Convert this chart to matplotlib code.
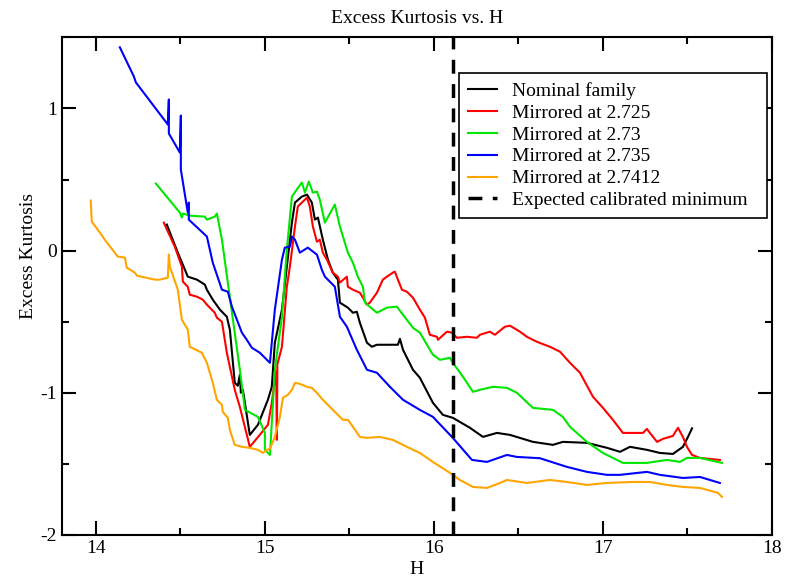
import matplotlib
matplotlib.use("Agg")
import matplotlib.pyplot as plt
from matplotlib.ticker import MultipleLocator

plt.rcParams['font.family'] = ['Liberation Serif', 'DejaVu Serif']
plt.rcParams['axes.unicode_minus'] = False

# Nominal family
h_nominal = [14.420, 14.485, 14.544, 14.598, 14.645, 14.657, 14.692, 14.734, 14.775, 14.793,
             14.822, 14.840, 14.852, 14.858, 14.870, 14.911, 14.959, 15.018, 15.041, 15.059,
             15.101, 15.130, 15.160, 15.178, 15.219, 15.249, 15.278, 15.296, 15.314, 15.343,
             15.373, 15.402, 15.432, 15.444, 15.491, 15.521, 15.544, 15.562, 15.604, 15.633,
             15.663, 15.722, 15.787, 15.799, 15.817, 15.876, 15.917, 15.994, 16.053, 16.112,
             16.213, 16.290, 16.373, 16.450, 16.586, 16.704, 16.763, 16.905, 17.024, 17.101,
             17.160, 17.260, 17.337, 17.414, 17.473, 17.503, 17.527]
k_nominal = [0.183, -0.014, -0.183, -0.204, -0.239, -0.275, -0.345, -0.415, -0.465, -0.556,
             -0.930, -0.950, -0.873, -1.000, -0.979, -1.296, -1.225, -1.049, -0.958, -0.648,
             -0.415, -0.113, 0.197, 0.338, 0.380, 0.394, 0.338, 0.218, 0.232, 0.077,
             -0.063, -0.155, -0.204, -0.366, -0.401, -0.437, -0.430, -0.507, -0.648, -0.676,
             -0.662, -0.662, -0.662, -0.620, -0.697, -0.838, -0.894, -1.070, -1.155, -1.176,
             -1.246, -1.310, -1.282, -1.296, -1.345, -1.366, -1.345, -1.352, -1.387, -1.415,
             -1.380, -1.401, -1.423, -1.430, -1.380, -1.310, -1.250]

# Mirrored at 2.725
h_2725 = [14.402, 14.467, 14.509, 14.515, 14.544, 14.556, 14.598, 14.633, 14.657, 14.704,
          14.716, 14.746, 14.775, 14.822, 14.852, 14.911, 14.970, 15.018, 15.041, 15.059,
          15.067, 15.071, 15.074, 15.101, 15.130, 15.148, 15.178, 15.195, 15.225, 15.249,
          15.266, 15.284, 15.308, 15.325, 15.343, 15.367, 15.402, 15.432, 15.444, 15.485,
          15.491, 15.521, 15.562, 15.580, 15.604, 15.621, 15.663, 15.698, 15.722, 15.757,
          15.769, 15.787, 15.811, 15.840, 15.876, 15.917, 15.947, 15.976, 16.018, 16.024,
          16.077, 16.107, 16.136, 16.195, 16.254, 16.272, 16.331, 16.361, 16.420, 16.450,
          16.509, 16.550, 16.609, 16.686, 16.746, 16.805, 16.864, 16.941, 17.000, 17.059,
          17.118, 17.237, 17.260, 17.278, 17.320, 17.355, 17.414, 17.444, 17.473, 17.497,
          17.527, 17.574, 17.692]
k_2725 = [0.197, 0.028, -0.113, -0.218, -0.254, -0.310, -0.324, -0.345, -0.380, -0.437,
          -0.472, -0.500, -0.718, -0.979, -1.099, -1.380, -1.296, -1.225, -1.070, -0.908,
          -0.850, -1.331, -0.800, -0.676, -0.254, -0.113, 0.169, 0.310, 0.345, 0.373,
          0.310, 0.169, 0.063, 0.077, -0.014, -0.063, -0.155, -0.183, -0.225, -0.183,
          -0.254, -0.275, -0.296, -0.331, -0.380, -0.366, -0.296, -0.204, -0.183, -0.155,
          -0.148, -0.204, -0.275, -0.289, -0.331, -0.415, -0.472, -0.592, -0.606, -0.627,
          -0.570, -0.577, -0.613, -0.606, -0.613, -0.592, -0.570, -0.592, -0.535, -0.528,
          -0.570, -0.606, -0.641, -0.676, -0.711, -0.789, -0.859, -1.028, -1.106, -1.190,
          -1.282, -1.282, -1.254, -1.282, -1.345, -1.324, -1.303, -1.246, -1.310, -1.380,
          -1.437, -1.458, -1.472]

# Mirrored at 2.73
h_273 = [14.355, 14.497, 14.509, 14.515, 14.556, 14.645, 14.657, 14.704, 14.716, 14.746,
         14.781, 14.852, 14.882, 14.959, 15.000, 15.000, 15.030, 15.059, 15.101, 15.130,
         15.160, 15.189, 15.219, 15.237, 15.260, 15.284, 15.308, 15.325, 15.355, 15.414,
         15.444, 15.491, 15.521, 15.550, 15.580, 15.592, 15.663, 15.722, 15.781, 15.817,
         15.876, 15.917, 15.994, 16.036, 16.095, 16.112, 16.172, 16.231, 16.272, 16.349,
         16.432, 16.491, 16.586, 16.704, 16.763, 16.805, 16.905, 17.000, 17.118, 17.260,
         17.379, 17.456, 17.497, 17.574, 17.704]
k_273 = [0.472, 0.268, 0.232, 0.261, 0.246, 0.239, 0.218, 0.239, 0.261, 0.077,
         -0.225, -0.838, -1.120, -1.169, -1.282, -1.401, -1.437, -0.838, -0.465, 0.007,
         0.380, 0.430, 0.479, 0.408, 0.486, 0.408, 0.415, 0.359, 0.197, 0.324,
         0.169, -0.014, -0.085, -0.183, -0.254, -0.366, -0.437, -0.401, -0.394, -0.451,
         -0.542, -0.577, -0.732, -0.768, -0.754, -0.789, -0.887, -0.993, -0.979, -0.958,
         -0.965, -1.000, -1.106, -1.120, -1.169, -1.239, -1.345, -1.423, -1.493, -1.493,
         -1.472, -1.486, -1.458, -1.458, -1.493]

# Mirrored at 2.735
h_2735 = [14.142, 14.225, 14.237, 14.426, 14.432, 14.432, 14.497, 14.503, 14.503, 14.544,
          14.550, 14.550, 14.657, 14.692, 14.746, 14.781, 14.805, 14.864, 14.893, 14.923,
          14.970, 15.030, 15.059, 15.101, 15.118, 15.148, 15.160, 15.178, 15.207, 15.254,
          15.308, 15.337, 15.355, 15.414, 15.444, 15.485, 15.544, 15.604, 15.663, 15.740,
          15.817, 15.917, 15.994, 16.112, 16.225, 16.314, 16.432, 16.491, 16.627, 16.787,
          16.905, 17.024, 17.101, 17.260, 17.337, 17.473, 17.574, 17.692]
k_2735 = [1.430, 1.225, 1.183, 0.887, 1.063, 0.824, 0.690, 0.950, 0.570, 0.268,
          0.338, 0.218, 0.099, -0.085, -0.275, -0.289, -0.394, -0.577, -0.627, -0.683,
          -0.718, -0.789, -0.415, -0.063, 0.021, 0.028, 0.099, 0.077, -0.014, 0.021,
          -0.028, -0.134, -0.183, -0.254, -0.465, -0.535, -0.697, -0.838, -0.859, -0.958,
          -1.049, -1.120, -1.169, -1.317, -1.472, -1.486, -1.437, -1.451, -1.460, -1.521,
          -1.556, -1.577, -1.577, -1.556, -1.577, -1.599, -1.592, -1.634]

# Mirrored at 2.7412
h_27412 = [13.970, 13.976, 14.024, 14.053, 14.130, 14.172, 14.183, 14.231, 14.243, 14.349,
           14.379, 14.426, 14.432, 14.438, 14.485, 14.509, 14.544, 14.556, 14.627, 14.657,
           14.692, 14.716, 14.746, 14.751, 14.781, 14.793, 14.822, 14.864, 14.911, 14.959,
           14.988, 15.012, 15.030, 15.059, 15.089, 15.107, 15.136, 15.160, 15.178, 15.207,
           15.249, 15.278, 15.308, 15.343, 15.402, 15.462, 15.491, 15.521, 15.562, 15.604,
           15.680, 15.757, 15.840, 15.917, 15.994, 16.095, 16.154, 16.231, 16.314, 16.391,
           16.432, 16.550, 16.686, 16.787, 16.905, 17.024, 17.178, 17.278, 17.379, 17.473,
           17.574, 17.680, 17.704]
k_27412 = [0.352, 0.204, 0.127, 0.077, -0.042, -0.049, -0.120, -0.155, -0.176, -0.204,
           -0.204, -0.190, -0.028, -0.113, -0.275, -0.486, -0.556, -0.676, -0.718, -0.789,
           -0.930, -1.049, -1.085, -1.134, -1.176, -1.261, -1.366, -1.380, -1.387, -1.401,
           -1.423, -1.401, -1.394, -1.310, -1.169, -1.035, -1.014, -0.979, -0.930, -0.937,
           -0.958, -0.965, -1.000, -1.049, -1.120, -1.190, -1.190, -1.239, -1.310, -1.317,
           -1.310, -1.331, -1.380, -1.423, -1.486, -1.563, -1.613, -1.662, -1.669, -1.634,
           -1.613, -1.634, -1.613, -1.627, -1.648, -1.634, -1.627, -1.627, -1.648, -1.662,
           -1.669, -1.704, -1.732]

h_expected_min = 16.11

fig = plt.figure(figsize=(7.9, 5.8), dpi=100)
ax = fig.add_axes([0.0785, 0.0776, 0.8987, 0.858])

lw = 1.5
ax.plot(h_nominal, k_nominal, color='black', lw=lw, label='Nominal family')
ax.plot(h_2725, k_2725, color='#ff0000', lw=lw, label='Mirrored at 2.725')
ax.plot(h_273, k_273, color='#00e600', lw=lw, label='Mirrored at 2.73')
ax.plot(h_2735, k_2735, color='#0000ff', lw=lw, label='Mirrored at 2.735')
ax.plot(h_27412, k_27412, color='#ffa500', lw=lw, label='Mirrored at 2.7412')
ax.axvline(h_expected_min, color='black', lw=2.5, linestyle=(0, (4, 3)),
           label='Expected calibrated minimum')

ax.set_xlim(13.8, 18)
ax.set_ylim(-2, 1.5)
ax.xaxis.set_major_locator(MultipleLocator(1))
ax.xaxis.set_minor_locator(MultipleLocator(0.5))
ax.yaxis.set_major_locator(MultipleLocator(1))
ax.yaxis.set_minor_locator(MultipleLocator(0.5))
ax.tick_params(which='both', direction='in', top=True, right=True, labelsize=14, width=1.5)
ax.tick_params(which='major', length=10)
ax.tick_params(which='minor', length=5)
for s in ax.spines.values():
    s.set_linewidth(1.5)

ax.set_title('Excess Kurtosis vs. H', fontsize=14, pad=10)
ax.set_xlabel('H', fontsize=14, labelpad=3)
ax.set_ylabel('Excess Kurtosis', fontsize=14)
ax.yaxis.set_label_coords(-0.035, 0.56)

# legend box stretched to the width it has in the original, text left aligned
leg = ax.legend(loc='upper left', bbox_to_anchor=(0.559, 0.0, 0.434, 0.928), mode='expand',
                borderaxespad=0, fontsize=14, frameon=True, fancybox=False,
                edgecolor='black', framealpha=1, handlelength=1.5, borderpad=0.45,
                labelspacing=0.22, handletextpad=0.77)
leg.get_frame().set_linewidth(1.2)

fig.savefig('out.png', dpi=100)
